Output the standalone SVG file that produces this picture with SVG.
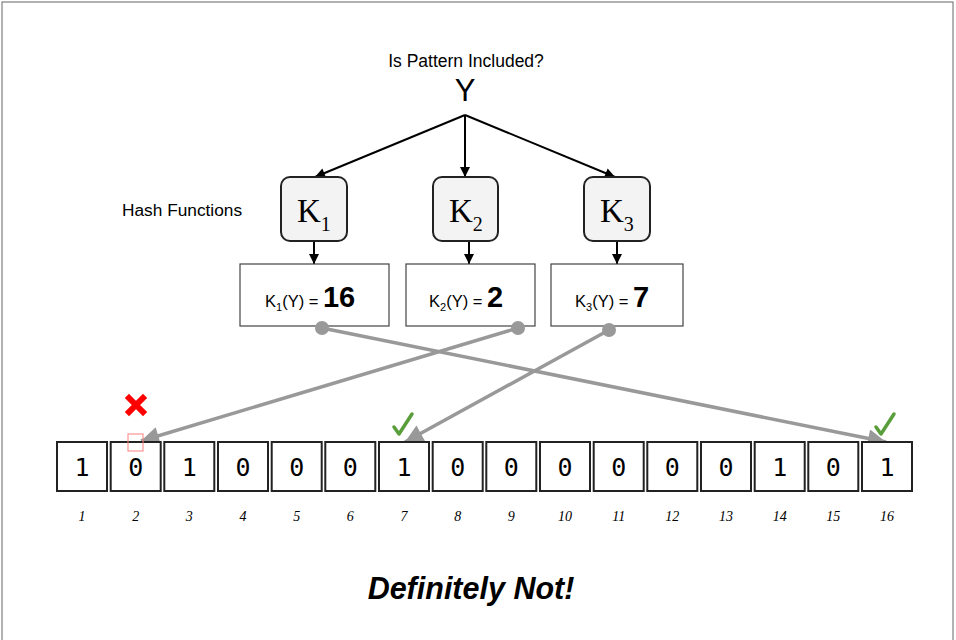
<svg xmlns="http://www.w3.org/2000/svg" width="956" height="640" viewBox="0 0 956 640">
<style>
.sans{font-family:"Liberation Sans",Arial,sans-serif;}
.serif{font-family:"Liberation Serif","Times New Roman",serif;}
.mono{font-family:"DejaVu Sans Mono","Liberation Mono",monospace;font-size:25px;}
.kbox{fill:#f3f3f3;stroke:#222;stroke-width:2;}
.rbox{fill:#fff;stroke:#444;stroke-width:1.2;}
.cell{fill:#fff;stroke:#222;stroke-width:2;}
.blk{stroke:#000;stroke-width:2;fill:none;}
.gray{stroke:#999;stroke-width:3.5;fill:none;}
.idx{font-family:"Liberation Serif","Times New Roman",serif;font-style:italic;font-size:14px;text-anchor:middle;}
</style>
<defs>
<marker id="ab" viewBox="0 0 10 10" refX="10" refY="5" markerWidth="11" markerHeight="10" markerUnits="userSpaceOnUse" orient="auto">
<path d="M0,0 L10,5 L0,10 z" fill="#000"/>
</marker>
<marker id="ag" viewBox="0 0 10 10" refX="10" refY="5" markerWidth="20" markerHeight="18" markerUnits="userSpaceOnUse" orient="auto">
<path d="M0,0 L10,5 L0,10 z" fill="#999"/>
</marker>
</defs>
<rect x="2" y="2" width="951" height="650" fill="#fff" stroke="#666" stroke-width="1"/>

<g id="title">
<text class="sans" x="466" y="67" font-size="17.5" text-anchor="middle">Is Pattern Included?</text>
<text class="sans" x="465" y="101" font-size="31" text-anchor="middle">Y</text>
</g>
<g id="hash-label"><text class="sans" x="122" y="216" font-size="17.3">Hash Functions</text></g>

<g id="connectors">
<path class="blk" d="M465,115 L315,177" marker-end="url(#ab)"/>
<path class="blk" d="M465,115 L465,177" marker-end="url(#ab)"/>
<path class="blk" d="M465,115 L615,177" marker-end="url(#ab)"/>
<path class="blk" d="M314,241 L314,264" marker-end="url(#ab)"/>
<path class="blk" d="M469,241 L469,264" marker-end="url(#ab)"/>
<path class="blk" d="M617,241 L617,264" marker-end="url(#ab)"/>
<path class="gray" d="M322,328 L886,442" marker-end="url(#ag)"/>
<path class="gray" d="M518,328 L141,441" marker-end="url(#ag)"/>
<path class="gray" d="M609,330 L405,442" marker-end="url(#ag)"/>
</g>

<g id="k1"><rect class="kbox" x="281" y="177" width="66" height="64" rx="9"/><text class="serif" x="297" y="222" font-size="33">K<tspan font-size="20" dy="9">1</tspan></text></g>
<g id="k2"><rect class="kbox" x="433" y="177" width="65" height="64" rx="9"/><text class="serif" x="449" y="222" font-size="33">K<tspan font-size="20" dy="9">2</tspan></text></g>
<g id="k3"><rect class="kbox" x="584" y="177" width="66" height="64" rx="9"/><text class="serif" x="600" y="222" font-size="33">K<tspan font-size="20" dy="9">3</tspan></text></g>

<g id="r1"><rect class="rbox" x="240" y="264" width="149" height="62"/><text class="sans" x="265" y="307" font-size="16.5">K<tspan font-size="11" dy="4">1</tspan><tspan dy="-4">(Y) = </tspan><tspan font-size="29" font-weight="bold">16</tspan></text></g>
<g id="r2"><rect class="rbox" x="406" y="264" width="129" height="62"/><text class="sans" x="429" y="307" font-size="16.5">K<tspan font-size="11" dy="4">2</tspan><tspan dy="-4">(Y) = </tspan><tspan font-size="29" font-weight="bold">2</tspan></text></g>
<g id="r3"><rect class="rbox" x="551" y="264" width="132" height="62"/><text class="sans" x="575" y="307" font-size="16.5">K<tspan font-size="11" dy="4">3</tspan><tspan dy="-4">(Y) = </tspan><tspan font-size="29" font-weight="bold">7</tspan></text></g>

<g id="dots" fill="#999">
<circle cx="322" cy="328" r="7"/>
<circle cx="518" cy="328" r="7"/>
<circle cx="609" cy="330" r="7"/>
</g>

<g id="array">
<rect class="cell" x="57" y="442" width="50" height="49"/>
<rect class="cell" x="110.7" y="442" width="50" height="49"/>
<rect class="cell" x="164.3" y="442" width="50" height="49"/>
<rect class="cell" x="218" y="442" width="50" height="49"/>
<rect class="cell" x="271.7" y="442" width="50" height="49"/>
<rect class="cell" x="325.3" y="442" width="50" height="49"/>
<rect class="cell" x="379" y="442" width="50" height="49"/>
<rect class="cell" x="432.7" y="442" width="50" height="49"/>
<rect class="cell" x="486.3" y="442" width="50" height="49"/>
<rect class="cell" x="540" y="442" width="50" height="49"/>
<rect class="cell" x="593.7" y="442" width="50" height="49"/>
<rect class="cell" x="647.3" y="442" width="50" height="49"/>
<rect class="cell" x="701" y="442" width="50" height="49"/>
<rect class="cell" x="754.7" y="442" width="50" height="49"/>
<rect class="cell" x="808.3" y="442" width="50" height="49"/>
<rect class="cell" x="862" y="442" width="50" height="49"/>
<g class="mono" text-anchor="middle">
<text x="82" y="476">1</text>
<text x="135.7" y="476">0</text>
<text x="189.3" y="476">1</text>
<text x="243" y="476">0</text>
<text x="296.7" y="476">0</text>
<text x="350.3" y="476">0</text>
<text x="404" y="476">1</text>
<text x="457.7" y="476">0</text>
<text x="511.3" y="476">0</text>
<text x="565" y="476">0</text>
<text x="618.7" y="476">0</text>
<text x="672.3" y="476">0</text>
<text x="726" y="476">0</text>
<text x="779.7" y="476">1</text>
<text x="833.3" y="476">0</text>
<text x="887" y="476">1</text>
</g>
<text class="idx" x="82" y="521">1</text>
<text class="idx" x="135.7" y="521">2</text>
<text class="idx" x="189.3" y="521">3</text>
<text class="idx" x="243" y="521">4</text>
<text class="idx" x="296.7" y="521">5</text>
<text class="idx" x="350.3" y="521">6</text>
<text class="idx" x="404" y="521">7</text>
<text class="idx" x="457.7" y="521">8</text>
<text class="idx" x="511.3" y="521">9</text>
<text class="idx" x="565" y="521">10</text>
<text class="idx" x="618.7" y="521">11</text>
<text class="idx" x="672.3" y="521">12</text>
<text class="idx" x="726" y="521">13</text>
<text class="idx" x="779.7" y="521">14</text>
<text class="idx" x="833.3" y="521">15</text>
<text class="idx" x="887" y="521">16</text>
</g>

<g id="marks">
<rect x="128" y="434" width="15" height="17" fill="none" stroke="#ff8080" stroke-width="1"/>
<path d="M129,398 L143,412 M143,398 L129,412" stroke="#f00" stroke-width="6" stroke-linecap="square"/>
<path d="M394,427 L399,434 L412,414" stroke="#5a9e3c" stroke-width="3.5" fill="none" stroke-linecap="round" stroke-linejoin="round"/>
<path d="M876,427 L881,434 L894,414" stroke="#5a9e3c" stroke-width="3.5" fill="none" stroke-linecap="round" stroke-linejoin="round"/>
</g>

<g id="verdict"><text class="sans" x="471" y="599" font-size="30.5" font-weight="bold" font-style="italic" text-anchor="middle">Definitely Not!</text></g>
</svg>
